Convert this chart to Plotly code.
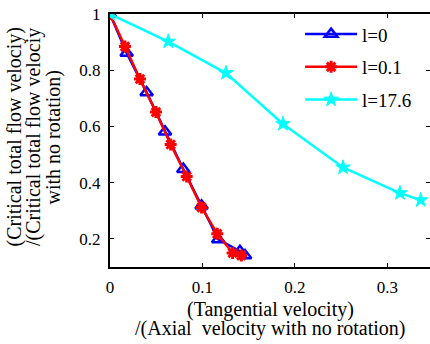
import plotly.graph_objects as go

# l = 0 (blue, triangles)
x_l0 = [0.0, 0.018, 0.0396, 0.0595, 0.0793, 0.099, 0.117, 0.1405, 0.146]
y_l0 = [1.0, 0.861, 0.721, 0.581, 0.448, 0.318, 0.198, 0.156, 0.141]
# l = 0.1 (red, asterisks)
x_l01 = [0.0, 0.0162, 0.0324, 0.0497, 0.0656, 0.0829, 0.099, 0.116, 0.1326, 0.142]
y_l01 = [1.0, 0.884, 0.769, 0.651, 0.536, 0.422, 0.312, 0.218, 0.150, 0.141]
# l = 17.6 (cyan, stars)
x_l176 = [0.0, 0.063, 0.1254, 0.187, 0.252, 0.3135, 0.336]
y_l176 = [1.0, 0.902, 0.790, 0.609, 0.454, 0.363, 0.338]

names = ["l=0", "l=0.1", "l=17.6"]
x_ticks = [0, 0.1, 0.2, 0.3]
y_ticks = [0.2, 0.4, 0.6, 0.8, 1]
x_title_lines = ["(Tangential velocity)", "/(Axial\u00a0 velocity with no rotation)"]
y_title_lines = ["(Critical total flow velociy)", "/(Critical total flow velociy", "with no rotation)"]

FONT = "Times New Roman"
BLACK = "black"

fig = go.Figure()
fig.add_trace(go.Scatter(
    x=x_l0, y=y_l0, name=names[0], mode="lines+markers", legendgroup="a",
    line=dict(color="#0000ff", width=2.5),
    marker=dict(symbol="triangle-up-open", size=11, color="#0000ff",
                line=dict(width=2.5, color="#0000ff"))))
fig.add_trace(go.Scatter(
    x=x_l01, y=y_l01, name=names[1], mode="lines+markers", legendgroup="b",
    line=dict(color="#ff0000", width=2.5),
    marker=dict(symbol="asterisk-open", size=10, color="#ff0000",
                line=dict(width=3, color="#ff0000"))))
fig.add_trace(go.Scatter(
    x=x_l176, y=y_l176, name=names[2], mode="lines+markers", legendgroup="c",
    line=dict(color="#00ffff", width=2.5),
    marker=dict(symbol="star", size=11, color="#00ffff",
                line=dict(width=1, color="#00ffff"))))

annotations = []
# x-axis title, two lines, tight line spacing
for i, txt in enumerate(x_title_lines):
    annotations.append(dict(
        text=txt, xref="paper", yref="paper", x=0.5, y=0,
        xanchor="center", yanchor="middle", yshift=-42 - 19 * i,
        showarrow=False, font=dict(family=FONT, size=20, color=BLACK)))
# y-axis title, three rotated lines
for i, txt in enumerate(y_title_lines):
    annotations.append(dict(
        text=txt, xref="paper", yref="paper", x=0, y=0.512,
        xanchor="center", yanchor="middle", xshift=-96 + 19.5 * i,
        textangle=-90, showarrow=False,
        font=dict(family=FONT, size=20, color=BLACK)))

fig.update_layout(
    width=430, height=344,
    margin=dict(l=110, r=0, t=14, b=77),
    paper_bgcolor="white", plot_bgcolor="white",
    font=dict(family=FONT, size=17, color=BLACK),
    showlegend=True,
    legend=dict(x=0.594, y=0.995, xanchor="left", yanchor="top",
                bgcolor="rgba(255,255,255,0)", borderwidth=0,
                font=dict(family=FONT, size=19, color=BLACK), itemwidth=52,
                tracegroupgap=5),
    annotations=annotations,
    xaxis=dict(range=[0, 0.346], tickvals=x_ticks, ticktext=["0", "0.1", "0.2", "0.3"],
               showgrid=False, zeroline=False, showline=True, linecolor=BLACK,
               linewidth=2, mirror="ticks", ticks="inside", ticklen=4,
               tickcolor=BLACK, tickfont=dict(family=FONT, size=17, color=BLACK),
               ticklabelstandoff=4, automargin=False, ticklabeloverflow="allow"),
    yaxis=dict(range=[0.1, 1.0], tickvals=y_ticks, ticktext=["0.2", "0.4", "0.6", "0.8", "1"],
               showgrid=False, zeroline=False, showline=True, linecolor=BLACK,
               linewidth=2, mirror="ticks", ticks="inside", ticklen=4,
               tickcolor=BLACK, tickfont=dict(family=FONT, size=17, color=BLACK),
               ticklabelstandoff=4, automargin=False, ticklabeloverflow="allow"),
)

fig.write_html("out.html", config={"displayModeBar": False},
               post_script="document.body.style.margin='0px';")
